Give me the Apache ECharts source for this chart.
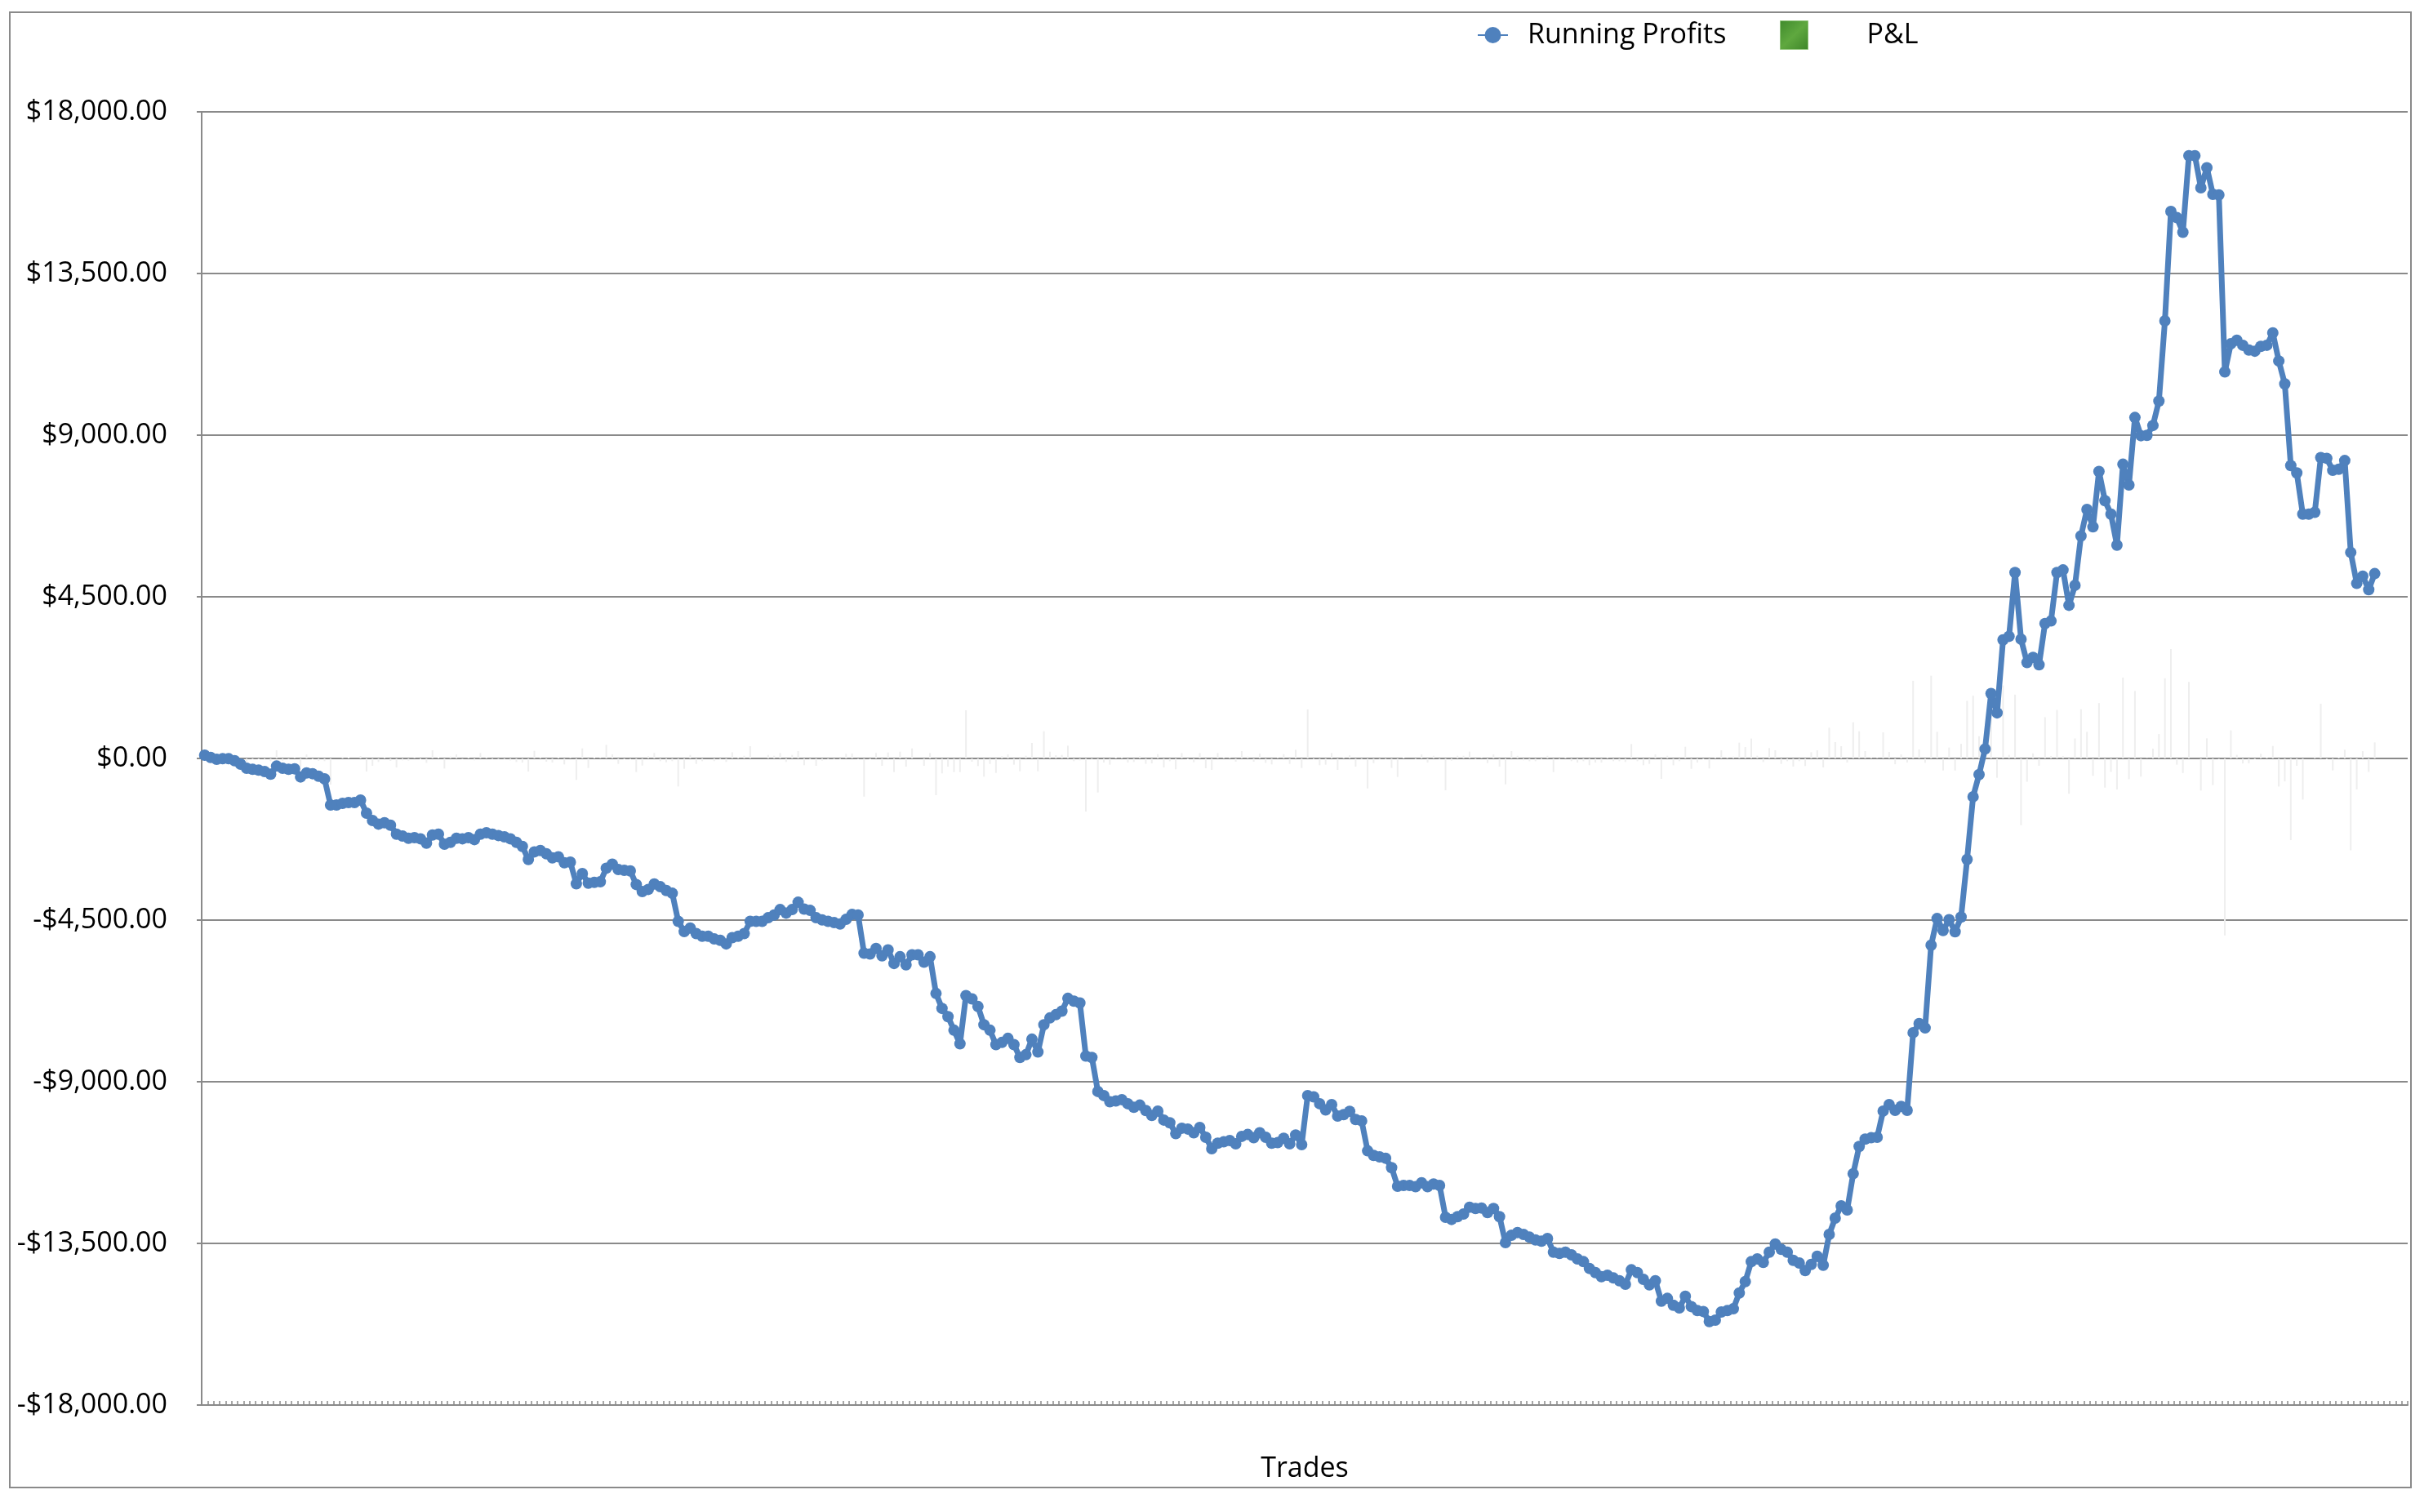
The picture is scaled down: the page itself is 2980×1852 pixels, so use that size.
<!DOCTYPE html>
<html>
<head>
<meta charset="utf-8">
<script src="https://cdn.jsdelivr.net/npm/echarts@6/dist/echarts.min.js"></script>
<style>
html,body{margin:0;padding:0;background:#fff;}
#chart{width:2980px;height:1852px;}
</style>
</head>
<body>
<div id="chart"></div>
<script>
// Running profits per trade
const runningProfits = [
91,30,-23,-8,-8,-61,-159,-273,-303,-326,
-364,-440,-212,-273,-303,-288,-515,-402,-424,-493,
-568,-1296,-1296,-1251,-1228,-1228,-1160,-1524,-1728,-1827,
-1789,-1857,-2107,-2160,-2221,-2206,-2236,-2357,-2130,-2107,
-2388,-2335,-2221,-2236,-2206,-2259,-2107,-2069,-2107,-2145,
-2183,-2236,-2335,-2448,-2812,-2600,-2562,-2653,-2767,-2736,
-2903,-2888,-3487,-3206,-3472,-3449,-3434,-3055,-2941,-3093,
-3115,-3131,-3509,-3707,-3646,-3494,-3570,-3676,-3752,-4533,
-4821,-4722,-4874,-4950,-4950,-5025,-5063,-5162,-4990,-4950,
-4874,-4533,-4533,-4533,-4434,-4358,-4207,-4305,-4207,-4002,
-4192,-4229,-4434,-4495,-4533,-4571,-4609,-4480,-4343,-4358,
-5420,-5443,-5291,-5496,-5329,-5708,-5519,-5746,-5466,-5466,
-5670,-5519,-6542,-6958,-7186,-7565,-7944,-6602,-6693,-6906,
-7413,-7565,-7967,-7906,-7792,-7967,-8323,-8247,-7815,-8171,
-7413,-7224,-7133,-7034,-6678,-6754,-6807,-8285,-8323,-9271,
-9384,-9558,-9535,-9498,-9611,-9710,-9650,-9801,-9937,-9816,
-10066,-10142,-10445,-10293,-10316,-10422,-10271,-10544,-10862,-10711,
-10673,-10635,-10726,-10521,-10468,-10559,-10422,-10544,-10711,-10695,
-10574,-10726,-10483,-10749,-9384,-9422,-9611,-9786,-9634,-9953,
-9915,-9824,-10051,-10089,-10923,-11052,-11090,-11128,-11393,-11908,
-11885,-11885,-11923,-11810,-11923,-11848,-11885,-12772,-12833,-12757,
-12682,-12492,-12530,-12515,-12643,-12530,-12757,-13477,-13272,-13197,
-13250,-13326,-13402,-13439,-13364,-13743,-13780,-13743,-13818,-13932,
-14008,-14197,-14311,-14425,-14387,-14463,-14539,-14637,-14235,-14311,
-14501,-14652,-14539,-15107,-15031,-15221,-15297,-14971,-15259,-15372,
-15395,-15675,-15638,-15410,-15372,-15320,-14880,-14562,-14008,-13932,
-14031,-13743,-13515,-13667,-13743,-13970,-14046,-14258,-14084,-13857,
-14107,-13250,-12795,-12454,-12568,-11560,-10802,-10597,-10559,-10544,
-9816,-9635,-9797,-9685,-9797,-7634,-7381,-7502,-5198,-4457,
-4791,-4487,-4823,-4416,-2813,-1066,-448,264,1806,1269,
3300,3400,5177,3320,2670,2811,2608,3757,3827,5177,
5248,4264,4821,6192,6933,6447,7989,7177,6802,5938,
8191,7613,9492,8985,8995,9269,9949,12182,15227,15054,
14649,16780,16780,15886,16446,15704,15688,10761,11543,11643,
11502,11370,11338,11470,11502,11848,11065,10426,8152,7948,
6802,6802,6852,8375,8355,8020,8050,8293,5735,4873,
5076,4700,5146
];
// P&L of each trade
const pnl = [
91,-61,-53,15,0,-53,-98,-114,-30,-23,
-38,-76,228,-61,-30,15,-227,113,-22,-69,
-75,-728,0,45,23,0,68,-364,-204,-99,
38,-68,-250,-53,-61,15,-30,-121,227,23,
-281,53,114,-15,30,-53,152,38,-38,-38,
-38,-53,-99,-113,-364,212,38,-91,-114,31,
-167,15,-599,281,-266,23,15,379,114,-152,
-22,-16,-378,-198,61,152,-76,-106,-76,-781,
-288,99,-152,-76,0,-75,-38,-99,172,40,
76,341,0,0,99,76,151,-98,98,205,
-190,-37,-205,-61,-38,-38,-38,129,137,-15,
-1062,-23,152,-205,167,-379,189,-227,280,0,
-204,151,-1023,-416,-228,-379,-379,1342,-91,-213,
-507,-152,-402,61,114,-175,-356,76,432,-356,
758,189,91,99,356,-76,-53,-1478,-38,-948,
-113,-174,23,37,-113,-99,60,-151,-136,121,
-250,-76,-303,152,-23,-106,151,-273,-318,151,
38,38,-91,205,53,-91,137,-122,-167,16,
121,-152,243,-266,1365,-38,-189,-175,152,-319,
38,91,-227,-38,-834,-129,-38,-38,-265,-515,
23,0,-38,113,-113,75,-37,-887,-61,76,
75,190,-38,15,-128,113,-227,-720,205,75,
-53,-76,-76,-37,75,-379,-37,37,-75,-114,
-76,-189,-114,-114,38,-76,-76,-98,402,-76,
-190,-151,113,-568,76,-190,-76,326,-288,-113,
-23,-280,37,228,38,52,440,318,554,76,
-99,288,228,-152,-76,-227,-76,-212,174,227,
-250,857,455,341,-114,1008,758,205,38,15,
728,181,-162,112,-112,2163,253,-121,2304,741,
-334,304,-336,407,1603,1747,618,712,1542,-537,
2031,100,1777,-1857,-650,141,-203,1149,70,1350,
71,-984,557,1371,741,-486,1542,-812,-375,-864,
2253,-578,1879,-507,10,274,680,2233,3045,-173,
-405,2131,0,-894,560,-742,-16,-4927,782,100,
-141,-132,-32,132,32,346,-783,-639,-2274,-204,
-1146,0,50,1523,-20,-335,30,243,-2558,-862,
203,-376,446
];
const tradeCount = 368;
const trades = Array.from({length: tradeCount}, (_, i) => String(i + 1));
const yTicks = [-18000, -13500, -9000, -4500, 0, 4500, 9000, 13500, 18000];

const FONT = '"Open Sans"';
function money(v) {
  const s = Math.abs(v).toLocaleString('en-US', {minimumFractionDigits: 2, maximumFractionDigits: 2});
  return (v < 0 ? '-$' : '$') + s;
}

const chart = echarts.init(document.getElementById('chart'));
chart.setOption({
  animation: false,
  backgroundColor: '#fff',
  textStyle: {fontFamily: FONT},
  graphic: [{
    type: 'rect', silent: true, z: -1,
    shape: {x: 12, y: 15, width: 2941, height: 1807},
    style: {fill: 'none', stroke: '#8a8a8a', lineWidth: 2}
  }],
  legend: [{
    data: ['Running Profits'],
    left: 1809, top: 25, padding: 0,
    itemWidth: 37, itemHeight: 25,
    textStyle: {fontFamily: FONT, fontSize: 34, color: '#000', lineHeight: 36, padding: [0, 0, 0, 19]}
  }, {
    data: [{name: 'P&L', icon: 'rect', itemStyle: {
      color: {type: 'linear', x: 0, y: 0, x2: 1, y2: 1, colorStops: [
        {offset: 0, color: '#3f8a2c'}, {offset: 0.5, color: '#5fa83f'}, {offset: 1, color: '#3d8529'}]},
      borderColor: '#8fc47a', borderWidth: 1}}],
    left: 2180, top: 25, padding: 0,
    itemWidth: 34, itemHeight: 35,
    textStyle: {fontFamily: FONT, fontSize: 34, color: '#000', lineHeight: 36, padding: [0, 0, 0, 67]}
  }],
  grid: {left: 247, right: 31, top: 137, bottom: 131, containLabel: false},
  xAxis: {
    type: 'category',
    data: trades,
    boundaryGap: true,
    name: 'Trades',
    nameLocation: 'middle',
    nameGap: 61,
    nameTextStyle: {fontFamily: FONT, fontSize: 34, color: '#000'},
    axisLine: {show: true, onZero: false, lineStyle: {color: '#8a8a8a', width: 2}},
    axisTick: {show: true, inside: true, length: 5, interval: 0, lineStyle: {color: '#8a8a8a', width: 1.5}},
    axisLabel: {show: false},
    splitLine: {show: false}
  },
  yAxis: {
    type: 'value',
    min: -18000, max: 18000, interval: 4500,
    axisLine: {show: true, lineStyle: {color: '#8a8a8a', width: 2}},
    axisTick: {show: true, length: 6, lineStyle: {color: '#8a8a8a', width: 2}},
    axisLabel: {
      fontFamily: FONT, fontSize: 34, color: '#000', margin: 42,
      formatter: v => yTicks.includes(v) ? money(v) : ''
    },
    splitLine: {show: true, lineStyle: {color: '#8a8a8a', width: 2}}
  },
  series: [{
    name: 'P&L',
    type: 'bar',
    data: pnl,
    barWidth: 2,
    itemStyle: {color: '#eeeeee'},
    z: 1
  }, {
    name: 'Running Profits',
    type: 'line',
    data: runningProfits,
    showAllSymbol: true,
    symbol: 'circle',
    symbolSize: 14,
    lineStyle: {color: '#4f81bd', width: 7},
    itemStyle: {color: '#4f81bd'},
    z: 3
  }]
});
</script>
</body>
</html>
